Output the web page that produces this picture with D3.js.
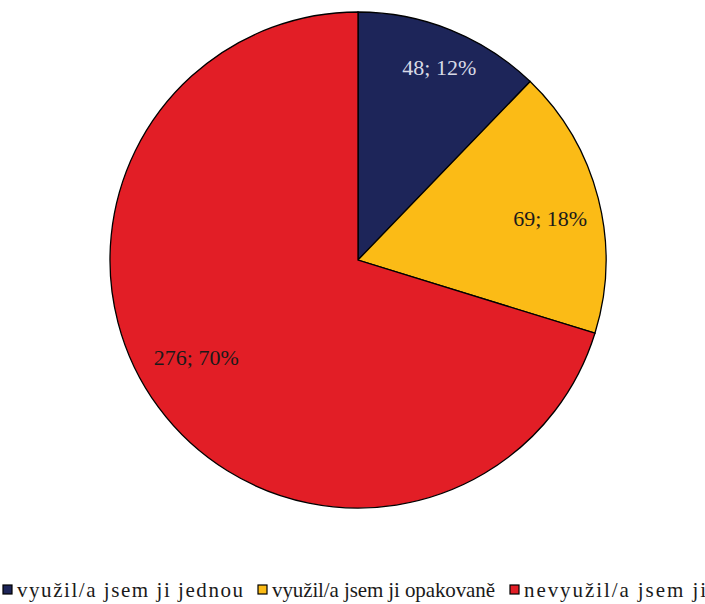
<!DOCTYPE html>
<html>
<head>
<meta charset="utf-8">
<script src="https://cdn.jsdelivr.net/npm/d3@7"></script>
<style>
  body { margin: 0; background: #fff; }
  svg text { font-family: "Liberation Serif", "Times New Roman", serif; }
</style>
</head>
<body>
<div id="chart"></div>
<script>
// data
const categories = ["využil/a jsem ji jednou", "využil/a jsem ji opakovaně", "nevyužil/a jsem ji"];
const counts = [48, 69, 276];
const percents = [12, 18, 70];
const colors = ["#1d2559", "#fbbb16", "#e21e26"];

const width = 705, height = 604;
const cx = 358, cy = 260, radius = 248;

const svg = d3.select("#chart")
    .append("svg")
    .attr("width", width)
    .attr("height", height);

const g = svg.append("g")
    .attr("transform", `translate(${cx},${cy})`);

const pie = d3.pie().sort(null).value(d => d.value);
const data = categories.map((c, i) => ({ name: c, value: counts[i], pct: percents[i], color: colors[i] }));

const arc = d3.arc().innerRadius(0).outerRadius(radius);
const labelArc = d3.arc().innerRadius(radius * 0.8).outerRadius(radius * 0.8);
// small nudges to match the original label placement
const nudge = [[7, -9], [0, 8], [-2, -20]];

g.selectAll("path.slice")
    .data(pie(data))
    .join("path")
    .attr("class", "slice")
    .attr("d", arc)
    .attr("fill", d => d.data.color)
    .attr("stroke", "#000")
    .attr("stroke-width", 1.3);

g.selectAll("text.label")
    .data(pie(data))
    .join("text")
    .attr("class", "label")
    .attr("transform", (d, i) => {
        const c = labelArc.centroid(d);
        return `translate(${c[0] + nudge[i][0]},${c[1] + nudge[i][1]})`;
    })
    .attr("text-anchor", "middle")
    .attr("dy", "0.35em")
    .attr("font-size", 22)
    .attr("fill", (d, i) => i === 0 ? "#d8dae6" : "#1a1a1a")
    .text(d => `${d.data.value}; ${d.data.pct}%`);

// legend
const legendX = [3, 258, 510];
const legendW = [226, 223, 182];
const legend = svg.append("g").attr("transform", "translate(0,590)");
const items = legend.selectAll("g.item")
    .data(data)
    .join("g")
    .attr("class", "item")
    .attr("transform", (d, i) => `translate(${legendX[i]},0)`);

items.append("rect")
    .attr("x", 0)
    .attr("y", -5)
    .attr("width", 9)
    .attr("height", 9)
    .attr("fill", d => d.color)
    .attr("stroke", "#000")
    .attr("stroke-width", 1.2);

items.append("text")
    .attr("x", 14)
    .attr("y", 0)
    .attr("dy", "0.35em")
    .attr("font-size", 21)
    .attr("textLength", (d, i) => legendW[i])
    .attr("lengthAdjust", "spacing")
    .attr("fill", "#1a1a1a")
    .text(d => d.name);
</script>
</body>
</html>
